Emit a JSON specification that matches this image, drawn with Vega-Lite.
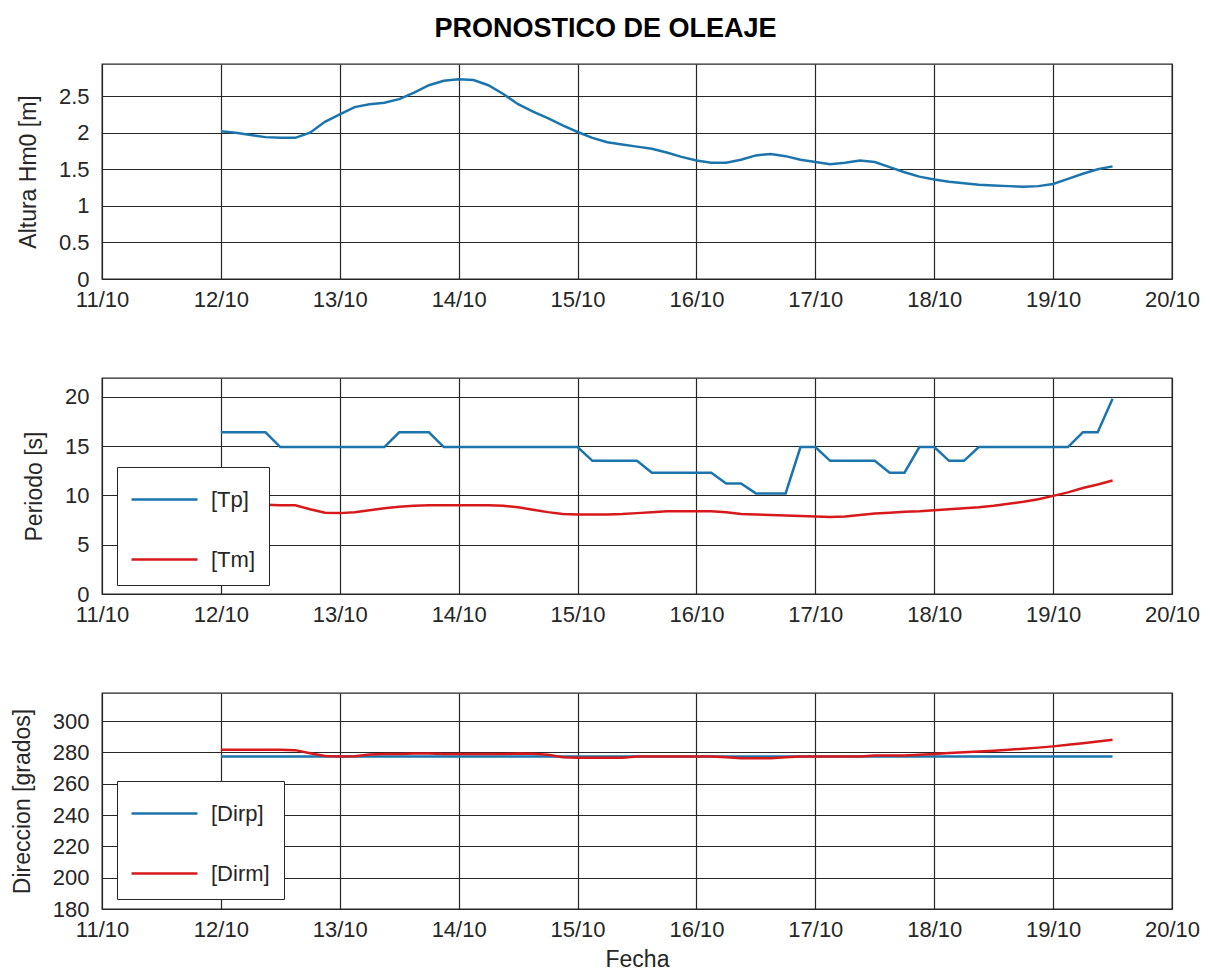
{
  "$schema": "https://vega.github.io/schema/vega-lite/v6.json",
  "padding": {"left": 10, "top": 15, "right": 10, "bottom": 10},
  "background": "white",
  "title": {"text": "PRONOSTICO DE OLEAJE", "fontSize": 27, "fontWeight": "bold", "font": "Liberation Sans", "color": "black", "anchor": "middle", "offset": 20},
  "bounds": "flush",
  "spacing": 99,
  "resolve": {"scale": {"color": "independent", "y": "independent"}, "legend": {"color": "independent"}},
  "datasets": {
    "ola": [
      {"fecha": "2019-10-12T00:00:00Z", "Hm0": 2.02, "Tp": 16.4, "Tm": 9.1, "Dirp": 277.5, "Dirm": 281.7},
      {"fecha": "2019-10-12T03:00:00Z", "Hm0": 2.00, "Tp": 16.4, "Tm": 9.1, "Dirp": 277.5, "Dirm": 281.7},
      {"fecha": "2019-10-12T06:00:00Z", "Hm0": 1.97, "Tp": 16.4, "Tm": 9.1, "Dirp": 277.5, "Dirm": 281.7},
      {"fecha": "2019-10-12T09:00:00Z", "Hm0": 1.94, "Tp": 16.4, "Tm": 9.05, "Dirp": 277.5, "Dirm": 281.7},
      {"fecha": "2019-10-12T12:00:00Z", "Hm0": 1.93, "Tp": 14.9, "Tm": 9.0, "Dirp": 277.5, "Dirm": 281.7},
      {"fecha": "2019-10-12T15:00:00Z", "Hm0": 1.93, "Tp": 14.9, "Tm": 9.0, "Dirp": 277.5, "Dirm": 281.5},
      {"fecha": "2019-10-12T18:00:00Z", "Hm0": 2.00, "Tp": 14.9, "Tm": 8.6, "Dirp": 277.5, "Dirm": 279.5},
      {"fecha": "2019-10-12T21:00:00Z", "Hm0": 2.15, "Tp": 14.9, "Tm": 8.25, "Dirp": 277.5, "Dirm": 277.8},
      {"fecha": "2019-10-13T00:00:00Z", "Hm0": 2.25, "Tp": 14.9, "Tm": 8.2, "Dirp": 277.5, "Dirm": 277.5},
      {"fecha": "2019-10-13T03:00:00Z", "Hm0": 2.35, "Tp": 14.9, "Tm": 8.3, "Dirp": 277.5, "Dirm": 277.6},
      {"fecha": "2019-10-13T06:00:00Z", "Hm0": 2.39, "Tp": 14.9, "Tm": 8.5, "Dirp": 277.5, "Dirm": 278.7},
      {"fecha": "2019-10-13T09:00:00Z", "Hm0": 2.41, "Tp": 14.9, "Tm": 8.7, "Dirp": 277.5, "Dirm": 279.0},
      {"fecha": "2019-10-13T12:00:00Z", "Hm0": 2.46, "Tp": 16.4, "Tm": 8.85, "Dirp": 277.5, "Dirm": 279.0},
      {"fecha": "2019-10-13T15:00:00Z", "Hm0": 2.55, "Tp": 16.4, "Tm": 8.95, "Dirp": 277.5, "Dirm": 279.3},
      {"fecha": "2019-10-13T18:00:00Z", "Hm0": 2.65, "Tp": 16.4, "Tm": 9.0, "Dirp": 277.5, "Dirm": 279.3},
      {"fecha": "2019-10-13T21:00:00Z", "Hm0": 2.71, "Tp": 14.9, "Tm": 9.0, "Dirp": 277.5, "Dirm": 279.0},
      {"fecha": "2019-10-14T00:00:00Z", "Hm0": 2.73, "Tp": 14.9, "Tm": 9.0, "Dirp": 277.5, "Dirm": 279.0},
      {"fecha": "2019-10-14T03:00:00Z", "Hm0": 2.72, "Tp": 14.9, "Tm": 9.0, "Dirp": 277.5, "Dirm": 279.0},
      {"fecha": "2019-10-14T06:00:00Z", "Hm0": 2.65, "Tp": 14.9, "Tm": 9.0, "Dirp": 277.5, "Dirm": 279.0},
      {"fecha": "2019-10-14T09:00:00Z", "Hm0": 2.53, "Tp": 14.9, "Tm": 8.95, "Dirp": 277.5, "Dirm": 279.0},
      {"fecha": "2019-10-14T12:00:00Z", "Hm0": 2.39, "Tp": 14.9, "Tm": 8.8, "Dirp": 277.5, "Dirm": 279.3},
      {"fecha": "2019-10-14T15:00:00Z", "Hm0": 2.29, "Tp": 14.9, "Tm": 8.55, "Dirp": 277.5, "Dirm": 279.2},
      {"fecha": "2019-10-14T18:00:00Z", "Hm0": 2.20, "Tp": 14.9, "Tm": 8.3, "Dirp": 277.5, "Dirm": 278.5},
      {"fecha": "2019-10-14T21:00:00Z", "Hm0": 2.10, "Tp": 14.9, "Tm": 8.1, "Dirp": 277.5, "Dirm": 277.0},
      {"fecha": "2019-10-15T00:00:00Z", "Hm0": 2.01, "Tp": 14.9, "Tm": 8.05, "Dirp": 277.5, "Dirm": 276.7},
      {"fecha": "2019-10-15T03:00:00Z", "Hm0": 1.93, "Tp": 13.5, "Tm": 8.05, "Dirp": 277.5, "Dirm": 276.7},
      {"fecha": "2019-10-15T06:00:00Z", "Hm0": 1.87, "Tp": 13.5, "Tm": 8.05, "Dirp": 277.5, "Dirm": 276.7},
      {"fecha": "2019-10-15T09:00:00Z", "Hm0": 1.84, "Tp": 13.5, "Tm": 8.1, "Dirp": 277.5, "Dirm": 276.7},
      {"fecha": "2019-10-15T12:00:00Z", "Hm0": 1.81, "Tp": 13.5, "Tm": 8.2, "Dirp": 277.5, "Dirm": 277.4},
      {"fecha": "2019-10-15T15:00:00Z", "Hm0": 1.78, "Tp": 12.3, "Tm": 8.3, "Dirp": 277.5, "Dirm": 277.4},
      {"fecha": "2019-10-15T18:00:00Z", "Hm0": 1.73, "Tp": 12.3, "Tm": 8.4, "Dirp": 277.5, "Dirm": 277.4},
      {"fecha": "2019-10-15T21:00:00Z", "Hm0": 1.67, "Tp": 12.3, "Tm": 8.4, "Dirp": 277.5, "Dirm": 277.4},
      {"fecha": "2019-10-16T00:00:00Z", "Hm0": 1.62, "Tp": 12.3, "Tm": 8.4, "Dirp": 277.5, "Dirm": 277.4},
      {"fecha": "2019-10-16T03:00:00Z", "Hm0": 1.59, "Tp": 12.3, "Tm": 8.4, "Dirp": 277.5, "Dirm": 277.4},
      {"fecha": "2019-10-16T06:00:00Z", "Hm0": 1.59, "Tp": 11.2, "Tm": 8.3, "Dirp": 277.5, "Dirm": 277.0},
      {"fecha": "2019-10-16T09:00:00Z", "Hm0": 1.63, "Tp": 11.2, "Tm": 8.1, "Dirp": 277.5, "Dirm": 276.3},
      {"fecha": "2019-10-16T12:00:00Z", "Hm0": 1.69, "Tp": 10.2, "Tm": 8.05, "Dirp": 277.5, "Dirm": 276.3},
      {"fecha": "2019-10-16T15:00:00Z", "Hm0": 1.71, "Tp": 10.2, "Tm": 8.0, "Dirp": 277.5, "Dirm": 276.3},
      {"fecha": "2019-10-16T18:00:00Z", "Hm0": 1.68, "Tp": 10.2, "Tm": 7.95, "Dirp": 277.5, "Dirm": 277.0},
      {"fecha": "2019-10-16T21:00:00Z", "Hm0": 1.63, "Tp": 14.9, "Tm": 7.9, "Dirp": 277.5, "Dirm": 277.4},
      {"fecha": "2019-10-17T00:00:00Z", "Hm0": 1.60, "Tp": 14.9, "Tm": 7.85, "Dirp": 277.5, "Dirm": 277.4},
      {"fecha": "2019-10-17T03:00:00Z", "Hm0": 1.57, "Tp": 13.5, "Tm": 7.8, "Dirp": 277.5, "Dirm": 277.4},
      {"fecha": "2019-10-17T06:00:00Z", "Hm0": 1.59, "Tp": 13.5, "Tm": 7.85, "Dirp": 277.5, "Dirm": 277.4},
      {"fecha": "2019-10-17T09:00:00Z", "Hm0": 1.62, "Tp": 13.5, "Tm": 8.0, "Dirp": 277.5, "Dirm": 277.4},
      {"fecha": "2019-10-17T12:00:00Z", "Hm0": 1.60, "Tp": 13.5, "Tm": 8.15, "Dirp": 277.5, "Dirm": 278.0},
      {"fecha": "2019-10-17T15:00:00Z", "Hm0": 1.53, "Tp": 12.3, "Tm": 8.25, "Dirp": 277.5, "Dirm": 278.0},
      {"fecha": "2019-10-17T18:00:00Z", "Hm0": 1.46, "Tp": 12.3, "Tm": 8.35, "Dirp": 277.5, "Dirm": 278.0},
      {"fecha": "2019-10-17T21:00:00Z", "Hm0": 1.40, "Tp": 14.9, "Tm": 8.4, "Dirp": 277.5, "Dirm": 278.6},
      {"fecha": "2019-10-18T00:00:00Z", "Hm0": 1.36, "Tp": 14.9, "Tm": 8.5, "Dirp": 277.5, "Dirm": 279.1},
      {"fecha": "2019-10-18T03:00:00Z", "Hm0": 1.33, "Tp": 13.5, "Tm": 8.6, "Dirp": 277.5, "Dirm": 279.6},
      {"fecha": "2019-10-18T06:00:00Z", "Hm0": 1.31, "Tp": 13.5, "Tm": 8.7, "Dirp": 277.5, "Dirm": 280.1},
      {"fecha": "2019-10-18T09:00:00Z", "Hm0": 1.29, "Tp": 14.9, "Tm": 8.8, "Dirp": 277.5, "Dirm": 280.6},
      {"fecha": "2019-10-18T12:00:00Z", "Hm0": 1.28, "Tp": 14.9, "Tm": 8.95, "Dirp": 277.5, "Dirm": 281.1},
      {"fecha": "2019-10-18T15:00:00Z", "Hm0": 1.27, "Tp": 14.9, "Tm": 9.15, "Dirp": 277.5, "Dirm": 281.7},
      {"fecha": "2019-10-18T18:00:00Z", "Hm0": 1.26, "Tp": 14.9, "Tm": 9.35, "Dirp": 277.5, "Dirm": 282.4},
      {"fecha": "2019-10-18T21:00:00Z", "Hm0": 1.27, "Tp": 14.9, "Tm": 9.6, "Dirp": 277.5, "Dirm": 283.1},
      {"fecha": "2019-10-19T00:00:00Z", "Hm0": 1.30, "Tp": 14.9, "Tm": 9.95, "Dirp": 277.5, "Dirm": 283.9},
      {"fecha": "2019-10-19T03:00:00Z", "Hm0": 1.37, "Tp": 14.9, "Tm": 10.3, "Dirp": 277.5, "Dirm": 284.9},
      {"fecha": "2019-10-19T06:00:00Z", "Hm0": 1.44, "Tp": 16.4, "Tm": 10.75, "Dirp": 277.5, "Dirm": 285.9},
      {"fecha": "2019-10-19T09:00:00Z", "Hm0": 1.50, "Tp": 16.4, "Tm": 11.1, "Dirp": 277.5, "Dirm": 287.0},
      {"fecha": "2019-10-19T12:00:00Z", "Hm0": 1.54, "Tp": 19.8, "Tm": 11.5, "Dirp": 277.5, "Dirm": 288.1}
    ]
  },
  "vconcat": [
    {
      "width": 1070,
      "height": 215,
      "data": {"name": "ola"},
      "mark": {"type": "line", "strokeWidth": 2.5, "color": "#1c74ad"},
      "encoding": {
        "x": {"field": "fecha", "type": "temporal",
          "scale": {"type": "utc", "domain": [{"year": 2019, "month": 10, "date": 11, "utc": true}, {"year": 2019, "month": 10, "date": 20, "utc": true}]},
          "axis": {"title": null, "labelExpr": "utcFormat(datum.value, '%d/%m')", "tickCount": {"interval": "day", "step": 1}}},
        "y": {"field": "Hm0", "type": "quantitative",
          "scale": {"domain": [0, 2.94], "nice": false, "zero": false},
          "axis": {"title": "Altura Hm0 [m]", "values": [0, 0.5, 1, 1.5, 2, 2.5], "labelExpr": "'' + datum.value"}}
      }
    },
    {
      "width": 1070,
      "height": 216,
      "data": {"name": "ola"},
      "transform": [{"fold": ["Tp", "Tm"], "as": ["serie", "valor"]}],
      "mark": {"type": "line", "strokeWidth": 2.5},
      "encoding": {
        "x": {"field": "fecha", "type": "temporal",
          "scale": {"type": "utc", "domain": [{"year": 2019, "month": 10, "date": 11, "utc": true}, {"year": 2019, "month": 10, "date": 20, "utc": true}]},
          "axis": {"title": null, "labelExpr": "utcFormat(datum.value, '%d/%m')", "tickCount": {"interval": "day", "step": 1}}},
        "y": {"field": "valor", "type": "quantitative",
          "scale": {"domain": [0, 21.9], "nice": false, "zero": false},
          "axis": {"title": "Periodo [s]", "values": [0, 5, 10, 15, 20]}},
        "color": {"field": "serie", "type": "nominal",
          "scale": {"domain": ["Tp", "Tm"], "range": ["#1c74ad", "#d7191c"]},
          "legend": {"orient": "none", "legendX": 15, "legendY": 89, "title": null,
            "labelExpr": "'[' + datum.label + ']'",
            "symbolType": "M-1.94,0H1.94", "symbolSize": 1156, "symbolStrokeWidth": 2.5,
            "symbolOffset": 15, "labelOffset": 28, "labelFontSize": 22, "labelColor": "#262626",
            "fillColor": "white", "strokeColor": "#262626", "padding": 14, "rowPadding": 30}}
      }
    },
    {
      "width": 1070,
      "height": 216,
      "data": {"name": "ola"},
      "transform": [{"fold": ["Dirp", "Dirm"], "as": ["serie", "valor"]}],
      "mark": {"type": "line", "strokeWidth": 2.5},
      "encoding": {
        "x": {"field": "fecha", "type": "temporal",
          "scale": {"type": "utc", "domain": [{"year": 2019, "month": 10, "date": 11, "utc": true}, {"year": 2019, "month": 10, "date": 20, "utc": true}]},
          "axis": {"title": "Fecha", "labelExpr": "utcFormat(datum.value, '%d/%m')", "tickCount": {"interval": "day", "step": 1}, "titlePadding": 8}},
        "y": {"field": "valor", "type": "quantitative",
          "scale": {"domain": [180, 318], "nice": false, "zero": false},
          "axis": {"title": "Direccion [grados]", "values": [180, 200, 220, 240, 260, 280, 300]}},
        "color": {"field": "serie", "type": "nominal",
          "scale": {"domain": ["Dirp", "Dirm"], "range": ["#1c74ad", "#d7191c"]},
          "legend": {"orient": "none", "legendX": 15, "legendY": 88, "title": null,
            "labelExpr": "'[' + datum.label + ']'",
            "symbolType": "M-1.94,0H1.94", "symbolSize": 1156, "symbolStrokeWidth": 2.5,
            "symbolOffset": 15, "labelOffset": 28, "labelFontSize": 22, "labelColor": "#262626",
            "fillColor": "white", "strokeColor": "#262626", "padding": 14, "rowPadding": 30}}
      }
    }
  ],
  "config": {
    "font": "Liberation Sans",
    "view": {"stroke": "#262626", "strokeWidth": 1.3},
    "axis": {
      "domain": false, "ticks": false, "grid": true,
      "gridColor": "#262626", "gridOpacity": 1, "gridWidth": 1.2,
      "labelFontSize": 22, "labelColor": "#262626", "labelPadding": 10,
      "labelFlush": false, "labelOverlap": false,
      "titleFontSize": 23, "titleFontWeight": "normal", "titleColor": "#262626"
    },
    "axisY": {"titlePadding": 18, "labelPadding": 13}
  }
}
